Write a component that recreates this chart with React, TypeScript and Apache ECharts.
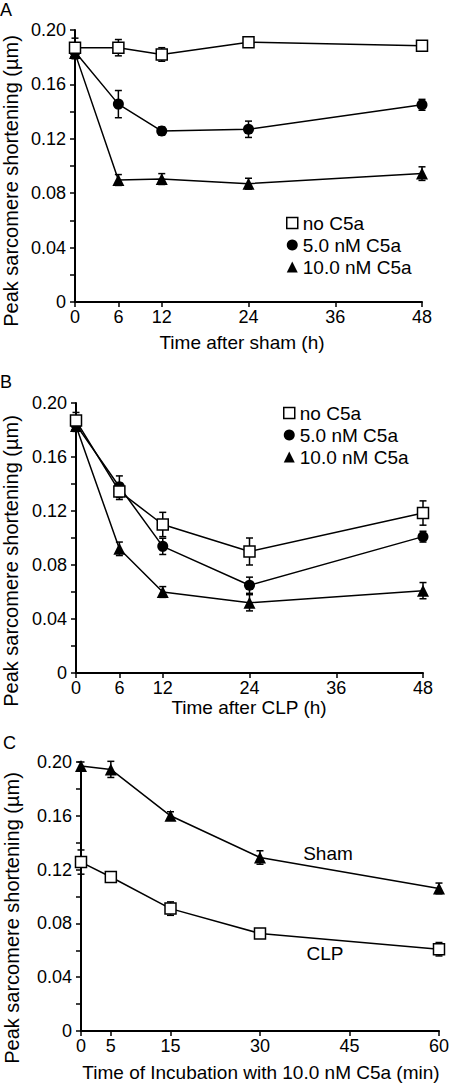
import React, { useEffect, useRef } from "react";
import * as echarts from "echarts";

const FONT = 'Arial, "Liberation Sans", Helvetica, sans-serif';

// Panel A (sham)
const timesA = [0, 6, 12, 24, 48];
const A_noC5a = [0.187, 0.187, 0.182, 0.191, 0.1885];
const A_noC5a_err = [0.007, 0.006, 0.005, 0.003, 0.003];
const A_5nM = [0.184, 0.1455, 0.1257, 0.127, 0.145];
const A_5nM_err = [0.005, 0.01, 0.003, 0.006, 0.004];
const A_10nM = [0.183, 0.0897, 0.0904, 0.087, 0.0944];
const A_10nM_err = [0.004, 0.004, 0.004, 0.004, 0.005];

// Panel B (CLP)
const timesB = [0, 6, 12, 24, 48];
const B_noC5a = [0.187, 0.1345, 0.11, 0.09, 0.1185];
const B_noC5a_err = [0.006, 0.006, 0.009, 0.01, 0.009];
const B_5nM = [0.184, 0.138, 0.0938, 0.065, 0.101];
const B_5nM_err = [0.005, 0.008, 0.006, 0.006, 0.004];
const B_10nM = [0.183, 0.092, 0.06, 0.052, 0.061];
const B_10nM_err = [0.004, 0.005, 0.004, 0.006, 0.006];

// Panel C (incubation time)
const timesC = [0, 5, 15, 30, 60];
const C_sham = [0.197, 0.1945, 0.16, 0.129, 0.106];
const C_sham_err = [0.003, 0.006, 0.003, 0.005, 0.004];
const C_clp = [0.1256, 0.1145, 0.091, 0.0725, 0.0608];
const C_clp_err = [0.009, 0.002, 0.005, 0.002, 0.005];

const xTicksAB = [0, 6, 12, 24, 36, 48];
const xTicksC = [0, 5, 15, 30, 45, 60];
const yTickLabels = ["0", "0.04", "0.08", "0.12", "0.16", "0.20"];

const legendNames = ["no C5a", "5.0 nM C5a", "10.0 nM C5a"];
const yTitle = "Peak sarcomere shortening (\u00b5m)";
const xTitles = ["Time after sham (h)", "Time after CLP (h)", "Time of Incubation with 10.0 nM C5a (min)"];

const BLACK = "#000";

function xAxisCfg(idx: number, max: number, ticks: number[]) {
  return {
    type: "value",
    gridIndex: idx,
    min: 0,
    max,
    axisLine: { show: true, lineStyle: { color: BLACK, width: 2 } },
    axisTick: { show: true, length: 5, lineStyle: { color: BLACK, width: 1.5 }, customValues: ticks },
    axisLabel: { color: BLACK, fontSize: 18, fontFamily: FONT, margin: 6, customValues: ticks },
    splitLine: { show: false },
  };
}

function yAxisCfg(idx: number) {
  return {
    type: "value",
    gridIndex: idx,
    min: 0,
    max: 0.2,
    interval: 0.04,
    axisLine: { show: true, lineStyle: { color: BLACK, width: 2 } },
    axisTick: { show: true, length: 5, lineStyle: { color: BLACK, width: 1.5 } },
    minorTick: { show: true, splitNumber: 2, length: 5, lineStyle: { color: BLACK, width: 1.5 } },
    axisLabel: {
      color: BLACK,
      fontSize: 18,
      fontFamily: FONT,
      margin: 9,
      formatter: (v: number) => yTickLabels[Math.round(v / 0.04)] ?? "",
    },
    splitLine: { show: false },
  };
}

function errSeries(idx: number, xs: number[], ys: number[], es: number[]) {
  return {
    type: "custom",
    xAxisIndex: idx,
    yAxisIndex: idx,
    silent: true,
    z: 1,
    data: xs.map((x, i) => [x, ys[i], es[i]]),
    encode: { x: 0, y: 1 },
    renderItem: (params: any, api: any) => {
      const x = api.value(0);
      const y = api.value(1);
      const e = api.value(2);
      const top = api.coord([x, y + e]);
      const bot = api.coord([x, y - e]);
      const cw = 3.5;
      const st = { stroke: BLACK, lineWidth: 1.5 };
      return {
        type: "group",
        children: [
          { type: "line", shape: { x1: top[0], y1: top[1], x2: bot[0], y2: bot[1] }, style: st },
          { type: "line", shape: { x1: top[0] - cw, y1: top[1], x2: top[0] + cw, y2: top[1] }, style: st },
          { type: "line", shape: { x1: bot[0] - cw, y1: bot[1], x2: bot[0] + cw, y2: bot[1] }, style: st },
        ],
      };
    },
  };
}

function lineSeries(idx: number, name: string, xs: number[], ys: number[], symbol: string, open: boolean, size: number) {
  return {
    type: "line",
    name,
    xAxisIndex: idx,
    yAxisIndex: idx,
    z: 3,
    data: xs.map((x, i) => [x, ys[i]]),
    symbol,
    symbolSize: size,
    showAllSymbol: true,
    lineStyle: { color: BLACK, width: 1.5 },
    itemStyle: open
      ? { color: "#fff", borderColor: BLACK, borderWidth: 1.5 }
      : { color: BLACK, borderColor: BLACK, borderWidth: 0 },
    emphasis: { disabled: true },
  };
}

function legendCfg(left: number, top: number) {
  return {
    orient: "vertical",
    left,
    top,
    itemWidth: 11,
    itemHeight: 11,
    itemGap: 0,
    selectedMode: false,
    padding: 0,
    textStyle: { color: BLACK, fontSize: 19, fontFamily: FONT, lineHeight: 22 },
    data: [
      { name: legendNames[0], icon: "rect", itemStyle: { color: "#fff", borderColor: BLACK, borderWidth: 1.5 } },
      { name: legendNames[1], icon: "circle", itemStyle: { color: BLACK, borderWidth: 0 } },
      { name: legendNames[2], icon: "triangle", itemStyle: { color: BLACK, borderWidth: 0 } },
    ],
  };
}

function txt(x: number, y: number, text: string, size: number, rotate = false, align = "center") {
  return {
    type: "text",
    x,
    y,
    rotation: rotate ? Math.PI / 2 : 0,
    silent: true,
    style: {
      text,
      fill: BLACK,
      font: `${size}px ${FONT}`,
      textAlign: align,
      textVerticalAlign: "middle",
    },
  };
}

export default function App() {
  const ref = useRef<HTMLDivElement>(null);

  useEffect(() => {
    if (!ref.current) return;
    const chart = echarts.init(ref.current, null, { renderer: "svg" });
    const option: any = {
      animation: false,
      backgroundColor: "#fff",
      grid: [
        { left: 75, top: 30, width: 347, height: 272 },
        { left: 76, top: 403, width: 347, height: 270 },
        { left: 81, top: 762, width: 361, height: 269 },
      ],
      xAxis: [xAxisCfg(0, 48, xTicksAB), xAxisCfg(1, 48, xTicksAB), xAxisCfg(2, 60, xTicksC)],
      yAxis: [yAxisCfg(0), yAxisCfg(1), yAxisCfg(2)],
      legend: [legendCfg(286, 212), legendCfg(283, 402)],
      series: [
        errSeries(0, timesA, A_noC5a, A_noC5a_err),
        errSeries(0, timesA, A_5nM, A_5nM_err),
        errSeries(0, timesA, A_10nM, A_10nM_err),
        lineSeries(0, legendNames[2], timesA, A_10nM, "triangle", false, 12),
        lineSeries(0, legendNames[1], timesA, A_5nM, "circle", false, 11),
        lineSeries(0, legendNames[0], timesA, A_noC5a, "rect", true, 11),

        errSeries(1, timesB, B_noC5a, B_noC5a_err),
        errSeries(1, timesB, B_5nM, B_5nM_err),
        errSeries(1, timesB, B_10nM, B_10nM_err),
        lineSeries(1, legendNames[2], timesB, B_10nM, "triangle", false, 12),
        lineSeries(1, legendNames[1], timesB, B_5nM, "circle", false, 11),
        lineSeries(1, legendNames[0], timesB, B_noC5a, "rect", true, 11),

        errSeries(2, timesC, C_sham, C_sham_err),
        errSeries(2, timesC, C_clp, C_clp_err),
        lineSeries(2, "Sham", timesC, C_sham, "triangle", false, 12),
        lineSeries(2, "CLP", timesC, C_clp, "rect", true, 11),
      ],
      graphic: [
        txt(0, 10, "A", 18, false, "left"),
        txt(0, 382, "B", 18, false, "left"),
        txt(3, 743, "C", 18, false, "left"),
        txt(11, 181, yTitle, 20, true),
        txt(11, 561, yTitle, 20, true),
        txt(12, 918, yTitle, 20, true),
        txt(242, 342, xTitles[0], 19),
        txt(249, 707, xTitles[1], 19),
        txt(261, 1072, xTitles[2], 19),
        txt(328, 853, "Sham", 19),
        txt(325, 953, "CLP", 19),
      ],
    };
    chart.setOption(option);
    return () => chart.dispose();
  }, []);

  return (
    <div
      ref={ref}
      style={{ position: "fixed", left: 0, top: 0, width: 452, height: 1084, background: "#fff" }}
    />
  );
}
